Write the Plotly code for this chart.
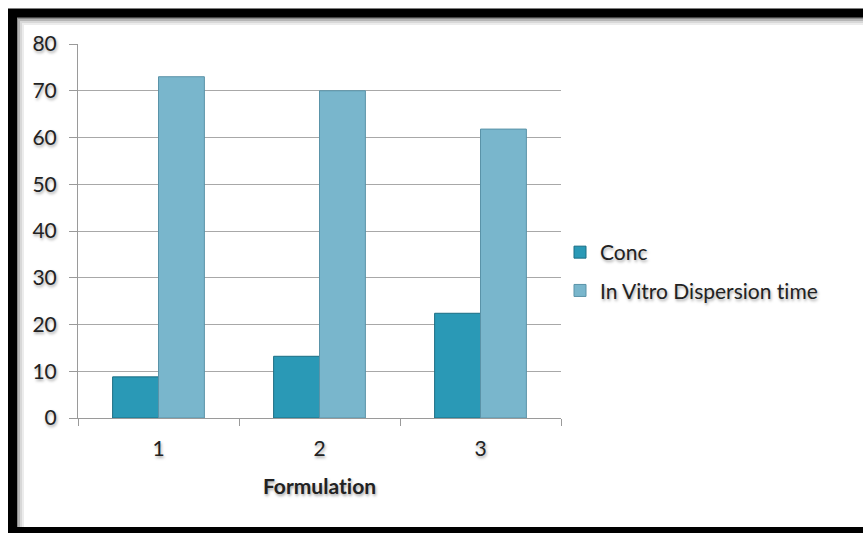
import plotly.graph_objects as go

# Data
formulations = ["1", "2", "3"]
conc = [8.8, 13.2, 22.4]
dispersion_time = [73, 70, 61.8]
y_ticks = [0, 10, 20, 30, 40, 50, 60, 70, 80]

W, H = 863, 533
L, R, T, B = 78, 302, 44, 115
PW, PH = W - L - R, H - T - B

def px_x(px):
    return (px - L) / PW

def px_y(py):
    return (H - B - py) / PH

FONT = "Lato, 'Open Sans', sans-serif"
SHADOW = "1px 2px 3px rgba(0,0,0,0.35)"
FS = 21
ZWNJ = "\u200c"  # keeps "ti" from joining into a ligature

fig = go.Figure()
fig.add_trace(go.Bar(
    x=formulations, y=conc, name="Conc",
    marker=dict(color="#2A99B6", line=dict(color="#1B6E84", width=1)),
    legendgroup="a",
))
fig.add_trace(go.Bar(
    x=formulations, y=dispersion_time, name=f"In Vitro Dispersion t{ZWNJ}ime",
    marker=dict(color="#79B6CC", line=dict(color="#5A93A8", width=1)),
    legendgroup="b",
))

# frame around the chart: black border with a soft grey inner edge
shapes = []
for i, c in enumerate(["#8a8a8a", "#b5b5b5", "#d8d8d8", "#ececec"]):
    shapes.append(dict(type="rect", xref="paper", yref="paper",
                       x0=px_x(17 + i * 2), x1=px_x(900), y0=px_y(528), y1=px_y(18 + i * 2),
                       line=dict(color=c, width=2), fillcolor="rgba(0,0,0,0)", layer="below"))
shapes.append(dict(type="rect", xref="paper", yref="paper",
                   x0=px_x(12.5), x1=px_x(900), y0=px_y(531.5), y1=px_y(13),
                   line=dict(color="black", width=9), fillcolor="rgba(0,0,0,0)"))

fig.update_layout(
    width=W, height=H,
    margin=dict(l=L, r=R, t=T, b=B),
    paper_bgcolor="white", plot_bgcolor="white",
    barmode="group", bargap=0.43, bargroupgap=0,
    font=dict(family=FONT, size=FS, color="#222"),
    xaxis=dict(
        showgrid=False, showline=True, linecolor="#9a9a9a", linewidth=1,
        ticks="outside", ticklen=7, tickcolor="#9a9a9a", tickson="boundaries",
        ticklabelstandoff=12,
        tickfont=dict(size=FS, shadow=SHADOW),
        title=dict(text=f"<b>Formula{ZWNJ}t{ZWNJ}ion</b>", font=dict(size=FS, shadow=SHADOW), standoff=20),
    ),
    yaxis=dict(
        range=[0, 80], tickvals=y_ticks, showgrid=True, gridcolor="#a8a8a8", gridwidth=1,
        showline=True, linecolor="#9a9a9a", linewidth=1,
        ticks="outside", ticklen=8, tickcolor="#9a9a9a", ticklabelstandoff=8,
        tickfont=dict(size=FS, shadow=SHADOW), zeroline=False,
    ),
    legend=dict(
        x=px_x(560), xanchor="left", y=px_y(232), yanchor="top",
        traceorder="grouped", tracegroupgap=8,
        font=dict(size=FS, shadow=SHADOW), bgcolor="rgba(0,0,0,0)",
    ),
    shapes=shapes,
)

fig.write_html("out.html")
